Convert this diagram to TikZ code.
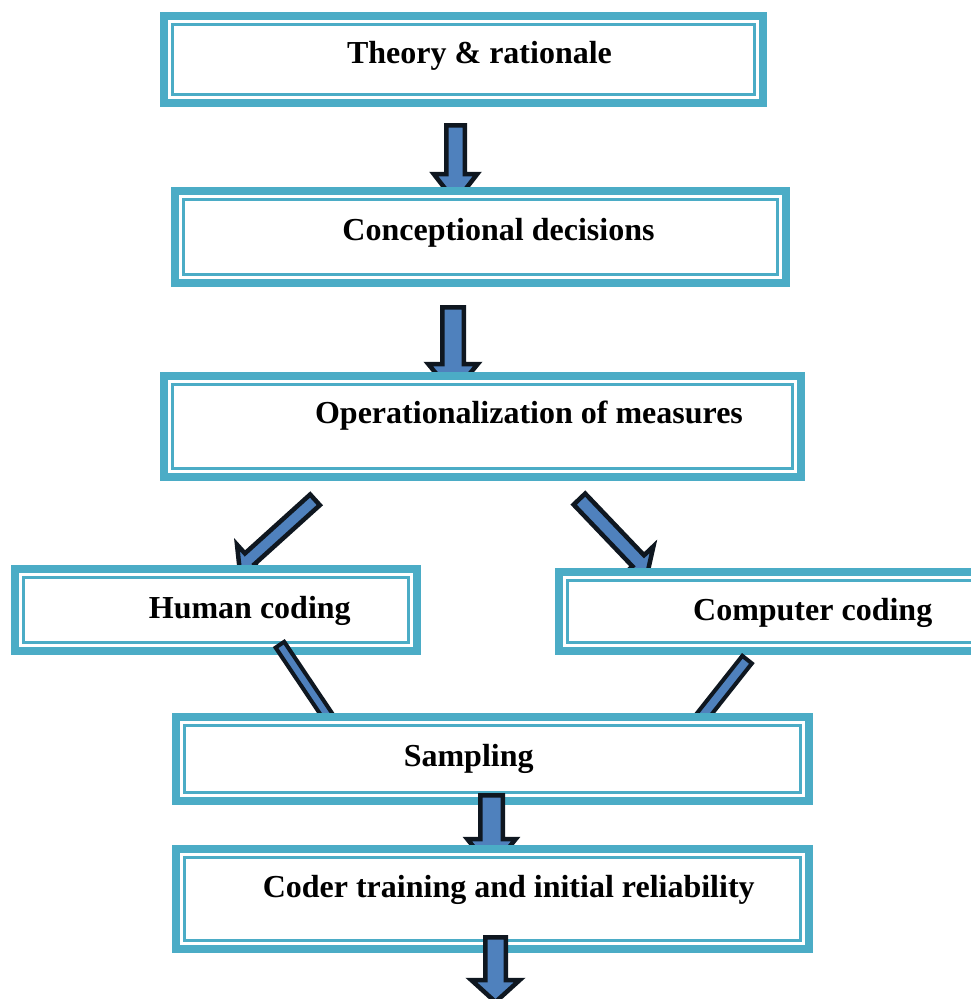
\documentclass[tikz,border=0pt]{standalone}
\usepackage{fontspec}
\setmainfont{Liberation Serif}
\usetikzlibrary{calc}
\definecolor{boxteal}{HTML}{4BACC6}
\definecolor{arrowblue}{HTML}{4F81BD}
\definecolor{arrowedge}{HTML}{0F1720}
\tikzset{
  flowbox/.style={rectangle, draw=boxteal, line width=8pt, fill=white, inner sep=0pt, outer sep=0pt},
  innerline/.style={draw=boxteal, line width=2.6pt},
  boxtext/.style={anchor=base, inner sep=0pt, font=\bfseries\fontsize{32}{38}\selectfont, text=black},
  blockarrowstyle/.style={fill=arrowblue, draw=arrowedge, line join=miter, miter limit=10},
}
% #1 tail coordinate, #2 tip coordinate, #3 shaft half width, #4 head half width, #5 head length, #6 outline width
\newcommand\blockarrow[6]{%
  \coordinate (#1c) at ($(#2)!#5!(#1)$);
  \draw[blockarrowstyle, line width=#6]
    ($(#1)!#3!90:(#2)$) -- ($(#1c)!#3!90:(#2)$) -- ($(#1c)!#4!90:(#2)$) -- (#2)
    -- ($(#1c)!#4!-90:(#2)$) -- ($(#1c)!#3!-90:(#2)$) -- ($(#1)!#3!-90:(#2)$) -- cycle;
}
\newcommand\flowframe[1]{%
  \draw[innerline] ($(#1.north west)+(8.3,8.3)$) rectangle ($(#1.south east)+(-8.3,-8.3)$);
}
\begin{document}
\begin{tikzpicture}[x=1pt,y=-1pt]
\useasboundingbox (0,0) rectangle (971,999);

% Box 1
\node[flowbox, minimum width=599pt, minimum height=87pt] (b1) at (463.5,59.5) {};
\flowframe{b1}
\node[boxtext] (t1) at (479.5,63.5) {Theory \& rationale};

% Arrow 1
\coordinate (a1s) at (455.5,125.25);
\coordinate (a1e) at (455.5,202);
\blockarrow{a1s}{a1e}{9.25pt}{21.75pt}{28pt}{4.5pt}

% Box 2
\node[flowbox, minimum width=611pt, minimum height=92pt] (b2) at (480.5,237) {};
\flowframe{b2}
\node[boxtext] (t2) at (498.5,240.5) {Conceptional decisions};

% Arrow 2
\coordinate (a2s) at (453,307.25);
\coordinate (a2e) at (453,394);
\blockarrow{a2s}{a2e}{10.75pt}{24.75pt}{30pt}{4.5pt}

% Box 3
\node[flowbox, minimum width=637pt, minimum height=101pt] (b3) at (482.5,426.5) {};
\flowframe{b3}
\node[boxtext] (t3) at (529,423.3) {Operationalization of measures};

% Arrows 3 and 4
\coordinate (a3s) at (315,499.8);
\coordinate (a3e) at (239.5,568);
\blockarrow{a3s}{a3e}{7.2pt}{19pt}{13.8pt}{4.5pt}
\coordinate (a4s) at (579.4,499.1);
\coordinate (a4e) at (647.9,570.9);
\blockarrow{a4s}{a4e}{8pt}{21pt}{14pt}{4.5pt}

% Box 4
\node[flowbox, minimum width=402pt, minimum height=82pt] (b4) at (216,610) {};
\flowframe{b4}
\node[boxtext] (t4) at (249.8,618.3) {Human coding};

% Box 5
\node[flowbox, minimum width=427pt, minimum height=79pt] (b5) at (772.5,611.5) {};
\flowframe{b5}
\node[boxtext] (t5) at (812.7,620) {Computer coding};

% Arrows 5 and 6
\coordinate (a5s) at (279.9,644.7);
\coordinate (a5e) at (345.6,742.6);
\blockarrow{a5s}{a5e}{5.2pt}{14pt}{18pt}{4pt}
\coordinate (a6s) at (747.1,659.6);
\coordinate (a6e) at (673.9,752.2);
\blockarrow{a6s}{a6e}{6.1pt}{16pt}{18pt}{4pt}

% Box 6
\node[flowbox, minimum width=633pt, minimum height=84pt] (b6) at (492.5,759) {};
\flowframe{b6}
\node[boxtext] (t6) at (468.7,766) {Sampling};

% Arrow 7
\coordinate (a7s) at (491.5,795.25);
\coordinate (a7e) at (491.5,869);
\blockarrow{a7s}{a7e}{11.25pt}{24.25pt}{30pt}{4.5pt}

% Box 7
\node[flowbox, minimum width=633pt, minimum height=100pt] (b7) at (492.5,899) {};
\flowframe{b7}
\node[boxtext] (t7) at (508.7,897.7) {Coder training and initial reliability};

% Arrow 8
\coordinate (a8s) at (495.5,937.25);
\coordinate (a8e) at (495.5,1002);
\blockarrow{a8s}{a8e}{10.25pt}{24.25pt}{22pt}{4.5pt}
\end{tikzpicture}
\end{document}
